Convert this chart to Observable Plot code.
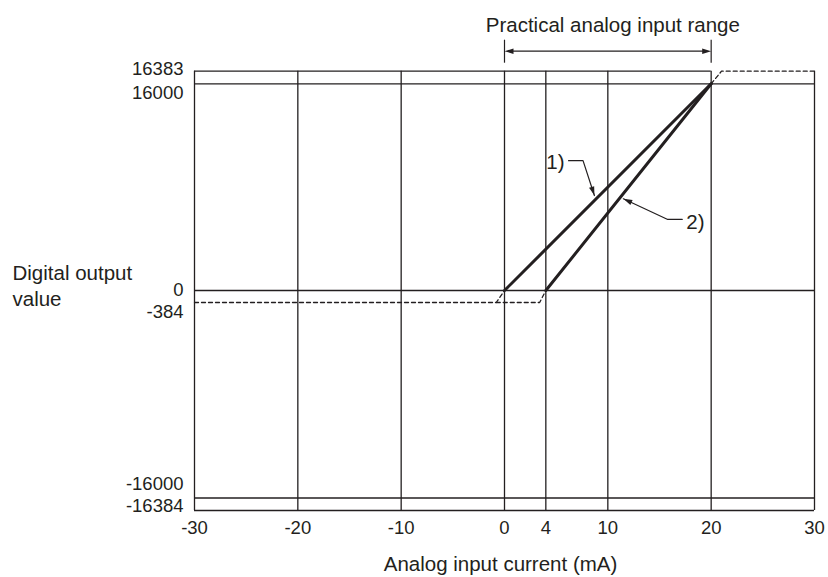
<!DOCTYPE html>
<html>
<head>
<meta charset="utf-8">
<script src="https://cdn.jsdelivr.net/npm/d3@7"></script>
<script src="https://cdn.jsdelivr.net/npm/@observablehq/plot@0.6"></script>
<style>
  html, body { margin: 0; padding: 0; background: #fff; }
</style>
</head>
<body>
<script>
// ---- data ----
const xTicks = [-30, -20, -10, 0, 4, 10, 20, 30];
const yTicks = [16383, 16000, 0, -384, -16000, -16384];
const gridX = [-30, -20, -10, 0, 4, 10, 20, 30];
const gridY = [16000, 0, -16000, -16384];
const topY = [16383];
const line1X = [0, 20];
const line1Y = [0, 16000];
const line2X = [4, 20];
const line2Y = [0, 16000];
const dash1X = [-30, -0.8, 0];
const dash1Y = [-384, -384, 0];
const dash2X = [-0.8, 3.4, 4];
const dash2Y = [-384, -384, 0];
const dashTopX = [20, 21, 30];
const dashTopY = [16000, 16383, 16383];
const leader1X = [6.2, 7.6, 8.7];
const leader1Y = [10050, 10050, 7350];
const leader2X = [17.2, 15.8, 11.5];
const leader2Y = [5500, 5500, 7100];
const rangeX = [0, 20];
const labels = ["1)", "2)"];
const title = "Practical analog input range";
const xTitle = "Analog input current (mA)";
const yTitle = "Digital output value";

// ---- scale configuration (schematic, piecewise y) ----
const xDomain = [-30, 30];
const xRange = [194, 814];
const yBreaks = [-16384, -16000, -384, 0, 16000, 16383];
const yPos = [510, 497.5, 302, 290, 83.3, 70.7];

const ink = "#231f20";
const font = "'Liberation Sans', Arial, Helvetica, sans-serif";
const fs = 20.5;
const fsTick = 18.5;

// schematic (non-proportional) value axis as in the reference
const yWarp = d3.scaleLinear(yBreaks, yPos);
const xs = d3.scaleLinear(xDomain, xRange);
function angle(xa, ya, xb, yb) {
  const dx = xs(xb) - xs(xa), dy = yWarp(yb) - yWarp(ya);
  return Math.atan2(dx, -dy) * 180 / Math.PI;
}
const head = {draw(ctx) { ctx.moveTo(0, 0); ctx.lineTo(-2.7, 9); ctx.lineTo(2.7, 9); ctx.closePath(); }};

const pts = (X, Y) => X.map((x, i) => ({x, y: Y[i]}));

const yShift = {"16383": -2, "16000": 9, "0": 0, "-384": 10, "-16000": -14, "-16384": -4};

const marks = [
  // grid / frame
  Plot.ruleX(gridX, {y1: -16384, y2: 16383, stroke: ink, strokeWidth: 1.3}),
  Plot.ruleY(gridY, {x1: -30, x2: 30, stroke: ink, strokeWidth: 1.3}),
  Plot.ruleY(topY, {x1: -30, x2: 20, stroke: ink, strokeWidth: 1.3}),
  // dashed extensions
  Plot.line(pts(dash1X, dash1Y), {x: "x", y: "y", stroke: ink, strokeWidth: 1.3, strokeDasharray: "4,3"}),
  Plot.line(pts(dash2X, dash2Y), {x: "x", y: "y", stroke: ink, strokeWidth: 1.3, strokeDasharray: "4,3"}),
  Plot.line(pts(dashTopX, dashTopY), {x: "x", y: "y", stroke: ink, strokeWidth: 1.3, strokeDasharray: "4,3"}),
  // main characteristics
  Plot.line(pts(line1X, line1Y), {x: "x", y: "y", stroke: ink, strokeWidth: 3}),
  Plot.line(pts(line2X, line2Y), {x: "x", y: "y", stroke: ink, strokeWidth: 3}),
  // leaders
  Plot.line(pts(leader1X, leader1Y), {x: "x", y: "y", stroke: ink, strokeWidth: 1.2}),
  Plot.line(pts(leader2X, leader2Y), {x: "x", y: "y", stroke: ink, strokeWidth: 1.2}),
  Plot.dot([{x: leader1X[2], y: leader1Y[2], a: angle(leader1X[1], leader1Y[1], leader1X[2], leader1Y[2])},
            {x: leader2X[2], y: leader2Y[2], a: angle(leader2X[1], leader2Y[1], leader2X[2], leader2Y[2])}],
    {x: "x", y: "y", rotate: "a", symbol: head, r: 4, fill: ink, stroke: null}),
  Plot.text([labels[0]], {x: leader1X[0], y: leader1Y[0], dx: -4, dy: 2, text: d => d, textAnchor: "end", fill: ink, fontSize: fs}),
  Plot.text([labels[1]], {x: leader2X[0], y: leader2Y[0], dx: 4, dy: 3, text: d => d, textAnchor: "start", fill: ink, fontSize: fs}),
  // practical range annotation
  Plot.ruleX(rangeX, {y1: 16383, y2: 16383, insetTop: -31, insetBottom: 8, stroke: ink, strokeWidth: 1.2}),
  Plot.ruleY([16383], {x1: rangeX[0], x2: rangeX[1], dy: -20, insetLeft: 4, insetRight: 4, stroke: ink, strokeWidth: 1.3}),
  Plot.dot([{x: rangeX[0], a: -90}, {x: rangeX[1], a: 90}], {x: "x", y: () => 16383, dy: -20, rotate: "a", symbol: head, r: 4, fill: ink, stroke: null}),
  Plot.text([title], {x: (rangeX[0] + rangeX[1]) / 2, y: () => 16383, dy: -46, dx: 5, text: d => d, fill: ink, fontSize: fs}),
  // tick labels
  ...yTicks.map(v => Plot.text([v], {y: d => d, frameAnchor: "left", dx: -11, dy: yShift[String(v)], text: d => String(d), textAnchor: "end", fill: ink, fontSize: fsTick})),
  Plot.text(xTicks, {x: d => d, frameAnchor: "bottom", dy: 23, text: d => String(d), fill: ink, fontSize: fsTick}),
  // axis titles
  Plot.text([xTitle], {frameAnchor: "bottom", dy: 60, dx: -4, text: d => d, fill: ink, fontSize: fs}),
  Plot.text([yTitle], {y: () => 0, frameAnchor: "left", dx: -182, dy: -5.5, text: () => "Digital output\nvalue", textAnchor: "start", lineHeight: 1.25, fill: ink, fontSize: fs})
];

const chart = Plot.plot({
  width: 828,
  height: 577,
  marginLeft: 194,
  marginRight: 14,
  marginTop: 71,
  marginBottom: 67,
  style: {fontFamily: font, fontSize: fs + "px", background: "#fff", overflow: "visible"},
  x: {domain: xDomain, range: xRange, axis: null},
  y: {transform: yWarp, domain: [yPos[0], yPos[yPos.length - 1]], range: [yPos[0], yPos[yPos.length - 1]], axis: null},
  marks
});
document.body.append(chart);
</script>
</body>
</html>
